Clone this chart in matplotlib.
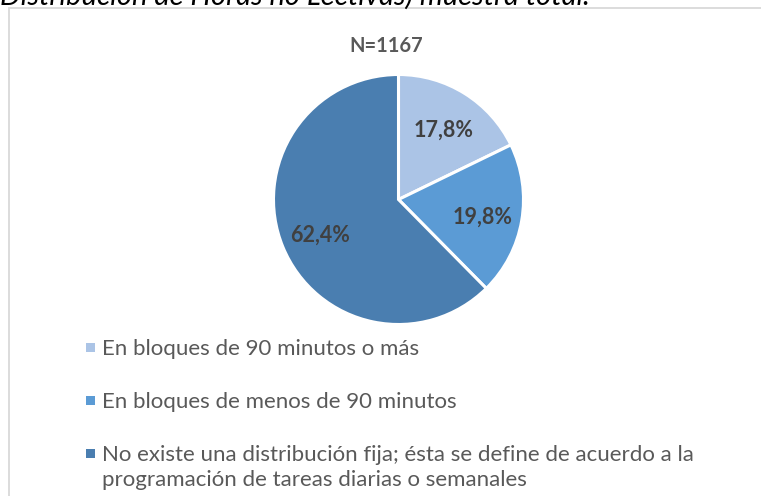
import matplotlib
matplotlib.use("Agg")
import matplotlib.pyplot as plt
from matplotlib.patches import Rectangle

categories = [
    "En bloques de 90 minutos o más",
    "En bloques de menos de 90 minutos",
    "No existe una distribución fija; ésta se define de acuerdo a la\nprogramación de tareas diarias o semanales",
]
values = [17.8, 19.8, 62.4]
colors = ["#ABC4E6", "#5B9BD5", "#4A7EB0"]
title = "Distribución de Horas no Lectivas) muestra total."
subtitle = "N=1167"

W, H = 761, 496
fig = plt.figure(figsize=(W / 100, H / 100), dpi=100)
FONT = "Lato"

def fx(px):
    return px / W

def fy(py):
    return 1 - py / H

# frame
fig.patches.append(Rectangle((fx(8.5), fy(600)), fx(800), (600 - 8) / H,
                             transform=fig.transFigure, fill=False, edgecolor="#D9D9D9", lw=1.3))

# title (cut at top, as in the source)
fig.text(fx(0), fy(5), title, fontsize=21, style="italic", family=FONT,
         color="#000000", ha="left", va="baseline")

fig.text(fx(386.5), fy(52), subtitle, fontsize=14.5, weight="bold", family=FONT,
         color="#595959", ha="center", va="baseline")

cx, cy, r = 398.5, 199.5, 125
ax = fig.add_axes([fx(cx - r), fy(cy + r), 2 * r / W, 2 * r / H])
wedges, texts, autotexts = ax.pie(
    values, colors=colors, startangle=90, counterclock=False,
    autopct=lambda p: f"{p:.1f}%".replace(".", ","), pctdistance=0.68,
    wedgeprops=dict(edgecolor="white", linewidth=2.2),
    textprops=dict(fontsize=15.5, weight="bold", family=FONT, color="#404040"),
)
for t in autotexts:
    x, y = t.get_position()
    t.set_position((x, y - 3 / r))
ax.set_xlim(-1, 1)
ax.set_ylim(-1, 1)
ax.set_aspect("auto")
ax.axis("off")

# legend (manual)
baselines = [355, 408, 461]
line_gap = 25
for lab, col, b in zip(categories, colors, baselines):
    fig.patches.append(Rectangle((fx(85.5), fy(b - 3)), 9 / W, 9 / H,
                                 transform=fig.transFigure, facecolor=col, edgecolor="none"))
    for i, line in enumerate(lab.split("\n")):
        fig.text(fx(102), fy(b + i * line_gap), line, fontsize=16, family=FONT,
                 color="#595959", ha="left", va="baseline")

fig.savefig("out.png", dpi=100)
